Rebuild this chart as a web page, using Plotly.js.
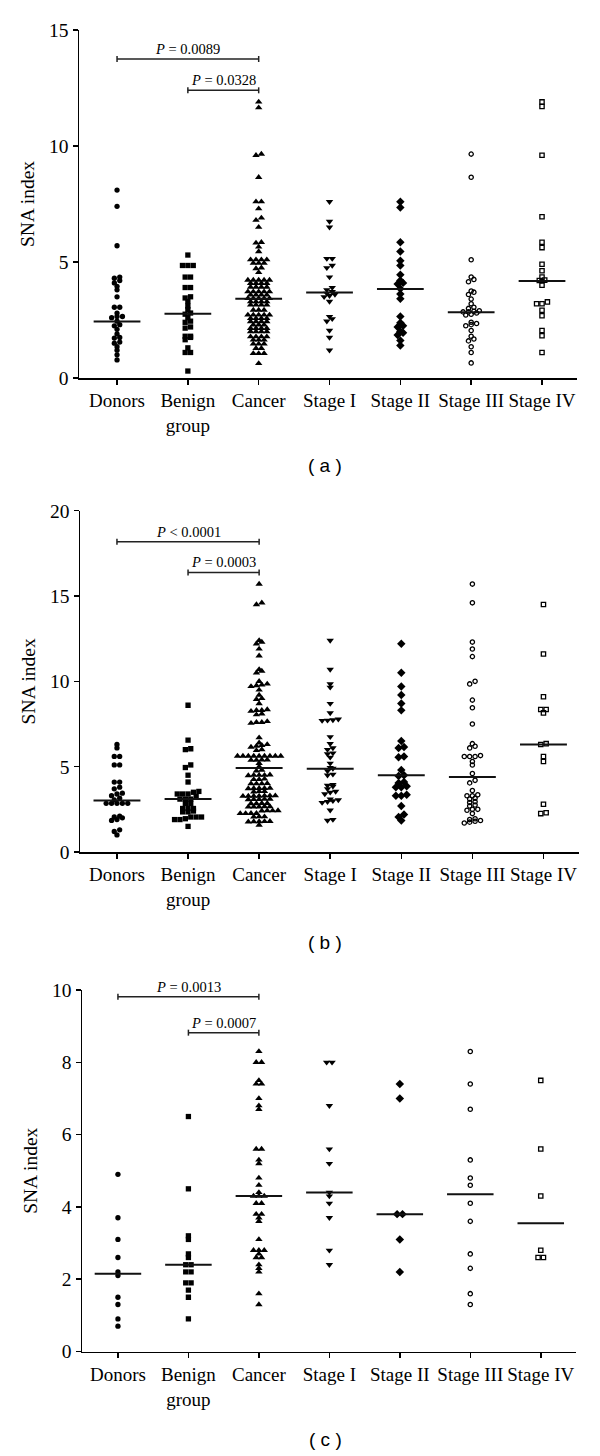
<!DOCTYPE html>
<html><head><meta charset="utf-8">
<script src="https://cdn.plot.ly/plotly-3.0.1.min.js"></script>
<style>html,body{margin:0;padding:0;background:#fff;}#chart{width:600px;height:1456px;}</style>
</head><body><div id="chart"></div>
<script>
// ---------- categories ----------
const categories = ["Donors", "Benign<br>group", "Cancer", "Stage I", "Stage II", "Stage III", "Stage IV"];
const symbols = ["circle", "square", "triangle-up", "triangle-down", "diamond", "circle-open", "square-open"];

// ---------- panel (a) ----------
const a_donors = [8.1, 7.4, 5.7, 4.35, 4.3, 4.2, 4.1, 3.95, 3.8, 3.5, 3.05, 3.05, 2.8, 2.65, 2.65, 2.6, 2.45, 2.3, 2.25, 2.1, 1.9, 1.75, 1.72, 1.55, 1.5, 1.35, 1.2, 1.0, 0.78];
const a_benign = [5.3, 4.85, 4.85, 4.85, 4.35, 4.35, 3.9, 3.9, 3.5, 3.45, 3.3, 3.1, 2.95, 2.8, 2.75, 2.6, 2.45, 2.4, 2.2, 2.15, 1.8, 1.8, 1.75, 1.65, 1.3, 1.1, 1.1, 0.3];
const a_cancer = [11.9, 11.65, 9.65, 9.6, 8.65, 7.6, 7.6, 7.3, 6.9, 6.8, 6.5, 5.85, 5.82, 5.65, 5.45,
  5.1, 5.1, 5.1, 5.1, 4.95, 4.95, 4.95, 4.75, 4.72, 4.55,
  4.22, 4.22, 4.22, 4.22, 4.22, 4.08, 4.08, 4.08, 4.08, 3.92, 3.92, 3.92, 3.92,
  3.72, 3.72, 3.72, 3.72, 3.72, 3.58, 3.58, 3.58, 3.58, 3.43, 3.43, 3.43, 3.43, 3.43,
  3.29, 3.29, 3.29, 3.29, 3.15, 3.15, 3.15, 3.15, 2.93, 2.93, 2.93,
  2.72, 2.72, 2.72, 2.72, 2.72, 2.57, 2.57, 2.57, 2.57, 2.43, 2.43, 2.43, 2.43, 2.29, 2.29, 2.29,
  2.14, 2.14, 2.14, 2.14, 2.0, 2.0, 2.0, 2.0, 1.78, 1.78, 1.78, 1.78, 1.64, 1.64, 1.64,
  1.47, 1.47, 1.47, 1.28, 1.28, 1.06, 1.06, 1.06, 0.63];
const a_stage1 = [7.6, 6.75, 6.5, 5.15, 5.15, 4.85, 4.75, 4.35, 3.9, 3.8, 3.72, 3.65, 3.6, 3.55, 3.5, 3.3, 2.65, 2.55, 2.45, 2.05, 1.75, 1.2];
const a_stage2 = [7.6, 7.35, 5.85, 5.45, 5.05, 4.85, 4.45, 4.2, 4.1, 4.05, 3.85, 3.62, 3.42, 2.65, 2.38, 2.25, 2.2, 2.0, 1.95, 1.85, 1.62, 1.4];
const a_stage3 = [9.65, 8.65, 5.1, 4.35, 4.25, 4.15, 3.75, 3.7, 3.6, 3.4, 3.2, 3.05, 3.0, 2.9, 2.88, 2.85, 2.85, 2.8, 2.75, 2.72, 2.4, 2.35, 2.3, 2.25, 2.05, 1.8, 1.68, 1.6, 1.35, 1.1, 0.65];
const a_stage4 = [11.9, 11.7, 9.6, 6.95, 5.85, 5.62, 4.9, 4.62, 4.35, 4.22, 4.2, 4.0, 3.28, 3.2, 3.2, 2.92, 2.68, 2.05, 1.82, 1.1];
const a_medians = [2.43, 2.77, 3.42, 3.68, 3.84, 2.83, 4.18];
const a_yTicks = [0, 5, 10, 15];
const a_pText = ["<i>P</i> = 0.0089", "<i>P</i> = 0.0328"];
const a_pFrom = [0, 1];
const a_pTo = [2, 2];
const a_pY = [13.75, 12.4];

// ---------- panel (b) ----------
const b_donors = [6.3, 6.1, 5.6, 5.6, 5.1, 5.1, 4.1, 4.1, 3.8, 3.7, 3.45, 3.4, 3.3, 3.15, 3.05, 2.85, 2.85, 2.85, 2.85, 2.85, 2.1, 2.05, 2.0, 1.9, 1.85, 1.3, 1.2, 1.0];
const b_benign = [8.6, 6.55, 6.05, 6.0, 5.1, 4.95, 4.5, 4.1, 3.55, 3.5, 3.4, 3.4, 3.4, 3.25, 3.1, 3.1, 3.1, 2.85, 2.85, 2.55, 2.55, 2.55, 2.4, 2.35, 2.35, 2.05, 2.05, 2.05, 1.95, 1.9, 1.9, 1.5];
const b_cancer = [15.7, 14.6, 14.5, 12.4, 12.3, 12.2, 11.9, 11.5, 10.7, 10.6, 10.5, 10.0, 9.85, 9.8, 9.75, 9.7, 9.5, 9.2, 9.0, 8.95, 8.7, 8.35, 8.3, 8.3, 8.25, 8.1, 8.05, 7.65, 7.6, 7.6, 7.55,
  6.7, 6.4, 6.3, 6.25, 6.2, 6.15, 6.0, 5.95,
  5.62, 5.62, 5.62, 5.62, 5.62, 5.62, 5.62, 5.62, 5.62,
  5.4, 5.4, 5.38, 5.38, 5.2, 5.0, 4.8, 4.75,
  4.52, 4.5, 4.5, 4.5, 4.48, 4.28, 4.25, 4.25, 4.02, 4.0, 4.0, 4.0,
  3.75, 3.73, 3.73, 3.73, 3.72, 3.55, 3.55, 3.53,
  3.3, 3.3, 3.3, 3.28, 3.28, 3.28, 3.27, 3.1, 3.1, 3.08, 3.08, 3.07,
  2.85, 2.85, 2.84, 2.84, 2.66, 2.66, 2.65, 2.65, 2.64,
  2.43, 2.42, 2.42, 2.41, 2.27, 2.27, 2.26, 2.26, 2.07, 2.07, 2.06,
  1.8, 1.79, 1.78, 1.78, 1.77, 1.58];
const b_stage1 = [12.4, 10.7, 9.85, 9.65, 8.7, 8.15, 7.78, 7.74, 7.72, 7.7, 6.75, 6.35, 6.1, 6.0, 5.8, 5.75, 5.55, 5.2, 4.95, 4.9, 4.75, 4.55, 4.5, 3.95, 3.9, 3.85, 3.7, 3.55, 3.5, 3.4, 3.1, 3.05, 3.0, 2.95, 2.9, 2.45, 1.9, 1.85];
const b_stage2 = [12.2, 10.5, 9.7, 9.2, 8.7, 8.3, 6.5, 6.15, 6.1, 5.6, 5.55, 4.8, 4.5, 4.45, 4.1, 4.05, 3.85, 3.8, 3.8, 3.35, 3.3, 3.3, 2.7, 2.2, 2.05, 1.85];
const b_stage3 = [15.7, 14.6, 12.3, 11.9, 11.45, 10.0, 9.85, 8.9, 8.45, 7.5, 6.35, 6.2, 6.1, 5.65, 5.6, 5.6, 5.6, 5.3, 5.1, 4.6, 4.2, 4.05, 3.6, 3.35, 3.3, 3.3, 3.15, 3.1, 2.95, 2.9, 2.75, 2.7, 2.5, 2.5, 2.45, 2.25, 1.95, 1.9, 1.85, 1.8, 1.75, 1.7];
const b_stage4 = [14.5, 11.6, 9.1, 8.35, 8.35, 8.15, 6.35, 6.3, 5.6, 5.3, 2.8, 2.3, 2.25];
const b_medians = [3.02, 3.1, 4.92, 4.88, 4.5, 4.4, 6.3];
const b_yTicks = [0, 5, 10, 15, 20];
const b_pText = ["<i>P</i> < 0.0001", "<i>P</i> = 0.0003"];
const b_pFrom = [0, 1];
const b_pTo = [2, 2];
const b_pY = [18.18, 16.38];

// ---------- panel (c) ----------
const c_donors = [4.9, 3.7, 3.1, 2.6, 2.2, 2.1, 1.5, 1.3, 0.9, 0.7];
const c_benign = [6.5, 4.5, 3.2, 3.1, 2.7, 2.6, 2.4, 2.4, 2.2, 2.2, 1.9, 1.9, 1.7, 1.5, 0.9];
const c_cancer = [8.3, 8.0, 8.0, 7.5, 7.4, 7.4, 7.0, 6.8, 6.7, 5.6, 5.6, 5.3, 5.2, 4.8, 4.6, 4.4, 4.3, 4.3, 4.3, 4.1, 4.1, 3.8, 3.8, 3.7, 3.6, 3.1, 2.8, 2.8, 2.8, 2.7, 2.6, 2.6, 2.4, 2.3, 2.2, 1.6, 1.3];
const c_stage1 = [8.0, 8.0, 6.8, 5.6, 5.2, 4.4, 4.3, 4.1, 3.7, 2.8, 2.4];
const c_stage2 = [7.4, 7.0, 3.8, 3.8, 3.1, 2.2];
const c_stage3 = [8.3, 7.4, 6.7, 5.3, 4.8, 4.6, 4.1, 3.6, 2.7, 2.3, 1.6, 1.3];
const c_stage4 = [7.5, 5.6, 4.3, 2.8, 2.6, 2.6];
const c_medians = [2.15, 2.4, 4.3, 4.4, 3.8, 4.35, 3.55];
const c_yTicks = [0, 2, 4, 6, 8, 10];
const c_pText = ["<i>P</i> = 0.0013", "<i>P</i> = 0.0007"];
const c_pFrom = [0, 1];
const c_pTo = [2, 2];
const c_pY = [9.81, 8.82];

// ---------- layout geometry (pixels of the 600x1456 page) ----------
const W = 600, H = 1456;
const panels = [
  {groups: [a_donors, a_benign, a_cancer, a_stage1, a_stage2, a_stage3, a_stage4], medians: a_medians, ticks: a_yTicks,
   pText: a_pText, pFrom: a_pFrom, pTo: a_pTo, pY: a_pY, label: "( a )",
   left: 79, right: 577, top: 30, bottom: 378, xr: [-0.537, 6.494], yr: [0, 15], labelY: 466},
  {groups: [b_donors, b_benign, b_cancer, b_stage1, b_stage2, b_stage3, b_stage4], medians: b_medians, ticks: b_yTicks,
   pText: b_pText, pFrom: b_pFrom, pTo: b_pTo, pY: b_pY, label: "( b )",
   left: 80, right: 579, top: 510.7, bottom: 852, xr: [-0.52, 6.5], yr: [0, 20], labelY: 942},
  {groups: [c_donors, c_benign, c_cancer, c_stage1, c_stage2, c_stage3, c_stage4], medians: c_medians, ticks: c_yTicks,
   pText: c_pText, pFrom: c_pFrom, pTo: c_pTo, pY: c_pY, label: "( c )",
   left: 82, right: 576, top: 990, bottom: 1351.5, xr: [-0.51, 6.5], yr: [0, 10], labelY: 1439}
];

const serif = "Liberation Serif, Times New Roman, serif";
const DOT = 5.4;      // horizontal spacing of side-by-side points (px)
const ROW = 3.0;      // values closer than this (px) share a row

function swarm(values, pxX, pxY) {
  const idx = values.map((v, i) => i).sort((a, b) => values[a] - values[b]);
  const off = new Array(values.length).fill(0);
  let row = [];
  const flush = () => {
    const n = row.length;
    row.forEach((k, j) => { off[k] = (j - (n - 1) / 2) * DOT / pxX; });
    row = [];
  };
  idx.forEach(k => {
    if (row.length && (values[k] - values[row[0]]) * pxY >= ROW) flush();
    row.push(k);
  });
  flush();
  return off;
}

const traces = [], shapes = [], annotations = [];
const layout = {
  width: W, height: H, margin: {l: 0, r: 0, t: 0, b: 0},
  paper_bgcolor: "#fff", plot_bgcolor: "#fff", showlegend: false,
  font: {family: serif, color: "#000"}
};

panels.forEach((p, pi) => {
  const n = pi === 0 ? "" : String(pi + 1);
  const xa = "x" + n, ya = "y" + n;
  const xd = [p.left / W, p.right / W];
  const yd = [1 - p.bottom / H, 1 - p.top / H];
  const pxX = (p.right - p.left) / (p.xr[1] - p.xr[0]);
  const pxY = (p.bottom - p.top) / (p.yr[1] - p.yr[0]);

  layout["xaxis" + n] = {
    domain: xd, range: p.xr, anchor: ya, tickmode: "array",
    tickvals: categories.map((c, i) => i), ticktext: categories,
    ticks: "outside", ticklen: 5, tickwidth: 1.5, tickcolor: "#000",
    showline: true, linecolor: "#000", linewidth: 1.5,
    showgrid: false, zeroline: false, fixedrange: true,
    tickfont: {family: serif, size: 19, color: "#000"}
  };
  layout["yaxis" + n] = {
    domain: yd, range: p.yr, anchor: xa, tickmode: "array",
    tickvals: p.ticks, ticktext: p.ticks.map(String),
    ticks: "outside", ticklen: 5, tickwidth: 1.5, tickcolor: "#000",
    showline: true, linecolor: "#000", linewidth: 1.5,
    showgrid: false, zeroline: false, fixedrange: true,
    tickfont: {family: serif, size: 19.5, color: "#000"},
    title: {text: "SNA index", font: {family: serif, size: 19.5, color: "#000"}, standoff: 9}
  };

  p.groups.forEach((vals, g) => {
    const off = swarm(vals, pxX, pxY);
    const open = symbols[g].endsWith("open");
    traces.push({
      type: "scatter", mode: "markers", xaxis: xa, yaxis: ya,
      x: vals.map((v, i) => g + off[i]), y: vals,
      marker: {
        symbol: symbols[g], color: "#000",
        size: symbols[g].startsWith("triangle") || symbols[g] === "diamond" ? 6.5 : (open ? 4.3 : 5.3),
        line: {color: "#000", width: open ? 1.3 : 0}
      },
      hoverinfo: "skip"
    });
  });

  // median lines
  const mx = [], my = [];
  p.medians.forEach((m, g) => { mx.push(g - 0.33, g + 0.33, null); my.push(m, m, null); });
  traces.push({type: "scatter", mode: "lines", xaxis: xa, yaxis: ya, x: mx, y: my,
    line: {color: "#111", width: 2}, hoverinfo: "skip"});

  // significance brackets
  const cap = 3 / pxY;
  p.pText.forEach((t, k) => {
    const x0 = p.pFrom[k], x1 = p.pTo[k], y = p.pY[k];
    const ln = {color: "#222", width: 1.5};
    shapes.push({type: "line", xref: xa, yref: ya, x0: x0, x1: x1, y0: y, y1: y, line: ln});
    shapes.push({type: "line", xref: xa, yref: ya, x0: x0, x1: x0, y0: y - cap, y1: y + cap, line: ln});
    shapes.push({type: "line", xref: xa, yref: ya, x0: x1, x1: x1, y0: y - cap, y1: y + cap, line: ln});
    annotations.push({xref: xa, yref: ya, x: (x0 + x1) / 2, y: y, yanchor: "bottom", xanchor: "center",
      yshift: 0, showarrow: false, text: t, font: {family: serif, size: 14.5, color: "#000"}});
  });

  annotations.push({xref: "paper", yref: "paper", x: 325 / W, y: 1 - p.labelY / H,
    xanchor: "center", yanchor: "middle", showarrow: false, text: p.label,
    font: {family: "Liberation Sans, Arial, sans-serif", size: 19, color: "#000"}});
});

layout.shapes = shapes;
layout.annotations = annotations;

Plotly.newPlot("chart", traces, layout, {displayModeBar: false, staticPlot: true});
</script>
</body></html>
